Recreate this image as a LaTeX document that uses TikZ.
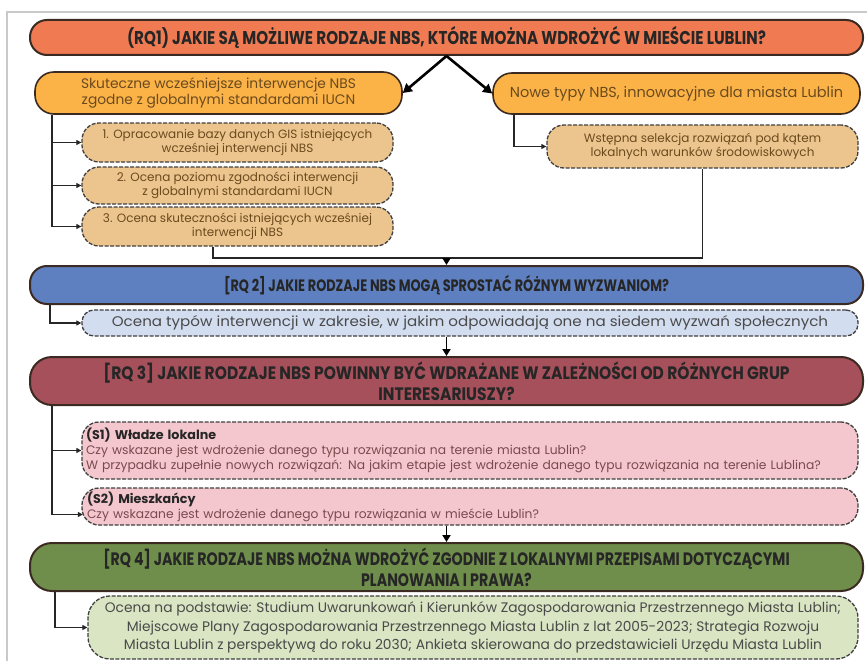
\documentclass[tikz,border=0pt]{standalone}
\usepackage{fontspec}
\setmainfont{Poppins}
\newfontfamily\hfont{Poppins}[FakeStretch=0.8]
\newfontfamily\honefont{Poppins}[FakeStretch=0.82]
\newfontfamily\htwofont{Poppins}[FakeStretch=0.78]
\newfontfamily\hthreefont{Poppins}[FakeStretch=0.86]
\newfontfamily\hfourfont{Poppins}[FakeStretch=0.79]
\newfontfamily\cfont{Poppins}[FakeStretch=1.08]
\usetikzlibrary{arrows.meta,calc}
\definecolor{cRQone}{HTML}{F07B52}
\definecolor{cOr}{HTML}{FBB347}
\definecolor{cTan}{HTML}{ECC58E}
\definecolor{cRQtwo}{HTML}{5E80C0}
\definecolor{cLB}{HTML}{D3DDF0}
\definecolor{cRQthree}{HTML}{A5505A}
\definecolor{cPink}{HTML}{F3C7CD}
\definecolor{cRQfour}{HTML}{6F8E4B}
\definecolor{cLG}{HTML}{D9E5C3}
\definecolor{cBord}{HTML}{3B2A22}
\definecolor{cFrame}{HTML}{C9C9C9}
\definecolor{cTxtBr}{HTML}{6B4A1E}
\definecolor{cTxtG}{HTML}{4A4A4A}
\definecolor{cTxtM}{HTML}{7A4A4E}
\tikzset{
  hdr/.style={draw=cBord, line width=2pt, rounded corners=17pt, align=center,
    font=\hfont\bfseries\fontsize{18}{21}\selectfont, text=black!85,
    minimum width=833pt, inner sep=0pt},
  obox/.style={draw=cBord, line width=1.6pt, fill=cOr, rounded corners=19pt, align=center,
    text=cTxtBr, minimum width=367pt, inner sep=0pt},
  sbox/.style={draw=black!75, line width=1.3pt, dash pattern=on 4pt off 1.5pt, rounded corners=17pt,
    align=center, inner sep=0pt},
  tanbox/.style={sbox, fill=cTan, minimum width=311pt, text=cTxtBr,
    font=\fontsize{12}{14}\selectfont},
  conn/.style={draw=black!85, line width=1.3pt, -{Triangle[width=5pt,length=5pt]}},
  line/.style={draw=black!85, line width=1.3pt},
  bigarr/.style={draw=black, line width=2.6pt, -{Triangle[width=10pt,length=9pt]}},
  varr/.style={draw=black, line width=1.8pt, -{Triangle[width=8pt,length=7pt]}},
}
\begin{document}
\begin{tikzpicture}[x=1pt,y=-1pt]
\useasboundingbox (0,0) rectangle (867,661);
\fill[white] (0,0) rectangle (867,661);
\draw[cFrame, line width=2pt] (867,12) -- (7,12) -- (7,661);

% coordinates for vertical trunks
\coordinate (x50) at (50,0);
\coordinate (x52) at (52,0);
\coordinate (x55) at (55,0);
\coordinate (x514) at (514,0);
\coordinate (j1) at (213,258);

% RQ1
\node[hdr, fill=cRQone, minimum height=35pt, font=\honefont\bfseries\fontsize{18.5}{21}\selectfont] (RQ1) at (446.5,37.5)
  {(RQ1) JAKIE SĄ MOŻLIWE RODZAJE NBS, KTÓRE MOŻNA WDROŻYĆ W MIEŚCIE LUBLIN?};

\node[obox, minimum height=42pt, font=\fontsize{13.8}{16}\selectfont] (Skut) at (218.5,93)
  {Skuteczne wcześniejsze interwencje NBS\\zgodne z globalnymi standardami IUCN};
\node[obox, minimum height=41pt, font=\fontsize{14.5}{16}\selectfont] (Nowe) at (676.5,93.5)
  {Nowe typy NBS, innowacyjne dla miasta Lublin};

\node[tanbox, minimum height=39pt] (B1) at (237.5,142.5)
  {1. Opracowanie bazy danych GIS istniejących\\wcześniej interwencji NBS};
\node[tanbox, minimum height=37pt] (B2) at (237.5,185.5)
  {2. Ocena poziomu zgodności interwencji\\z globalnymi standardami IUCN};
\node[tanbox, minimum height=39pt] (B3) at (237.5,226.5)
  {3. Ocena skuteczności istniejących wcześniej\\interwencji NBS};
\node[tanbox, minimum height=43pt] (Wst) at (702.5,146.5)
  {Wstępna selekcja rozwiązań pod kątem\\lokalnych warunków środowiskowych};

% RQ2
\node[hdr, fill=cRQtwo, minimum height=38pt, font=\htwofont\bfseries\fontsize{16.5}{20}\selectfont] (RQ2) at (446.5,285)
  {[RQ 2] JAKIE RODZAJE NBS MOGĄ SPROSTAĆ RÓŻNYM WYZWANIOM?};
\node[sbox, fill=cLB, minimum width=776pt, minimum height=26pt, rounded corners=12pt, text=cTxtG,
  font=\cfont\fontsize{14}{15}\selectfont] (Oc2) at (470,323)
  {Ocena typów interwencji w zakresie, w jakim odpowiadają one na siedem wyzwań społecznych};

% RQ3
\node[hdr, fill=cRQthree, minimum height=48pt, rounded corners=22pt,
  font=\hthreefont\bfseries\fontsize{18}{21}\selectfont] (RQ3) at (446.5,381)
  {[RQ 3] JAKIE RODZAJE NBS POWINNY BYĆ WDRAŻANE W ZALEŻNOŚCI OD RÓŻNYCH GRUP\\INTERESARIUSZY?};
\node[sbox, fill=cPink, minimum width=776pt, minimum height=57pt, text=cTxtM, align=left,
  text width=768pt, font=\fontsize{12.3}{15}\selectfont] (S1) at (470,450.5)
  {{\color{black!85}\fontsize{12.7}{15}\selectfont\bfseries (S1) Władze lokalne}\\
   Czy wskazane jest wdrożenie danego typu rozwiązania na terenie miasta Lublin?\\
   W przypadku zupełnie nowych rozwiązań: Na jakim etapie jest wdrożenie danego typu rozwiązania na terenie Lublina?};
\node[sbox, fill=cPink, minimum width=776pt, minimum height=37pt, text=cTxtM, align=left,
  text width=766pt, font=\fontsize{12.3}{15}\selectfont] (S2) at (470,506.5)
  {{\color{black!85}\fontsize{12.7}{15}\selectfont\bfseries (S2) Mieszkańcy}\\
   Czy wskazane jest wdrożenie danego typu rozwiązania w mieście Lublin?};

% RQ4
\node[hdr, fill=cRQfour, minimum height=48pt, rounded corners=22pt,
  font=\hfourfont\bfseries\fontsize{18}{21}\selectfont] (RQ4) at (446.5,567)
  {[RQ 4] JAKIE RODZAJE NBS MOŻNA WDROŻYĆ ZGODNIE Z LOKALNYMI PRZEPISAMI DOTYCZĄCYMI\\PLANOWANIA I PRAWA?};
\node[sbox, fill=cLG, minimum width=770pt, minimum height=63pt, rounded corners=22pt, text=cTxtG,
  font=\fontsize{13.8}{18.5}\selectfont] (Oc4) at (473,627.5)
  {Ocena na podstawie: Studium Uwarunkowań i Kierunków Zagospodarowania Przestrzennego Miasta Lublin;\\
   Miejscowe Plany Zagospodarowania Przestrzennego Miasta Lublin z lat 2005-2023; Strategia Rozwoju\\
   Miasta Lublin z perspektywą do roku 2030; Ankieta skierowana do przedstawicieli Urzędu Miasta Lublin};

% connectors
\draw[bigarr] (RQ1.south) -- (Skut.east);
\draw[bigarr] (RQ1.south) -- (Nowe.west);

\draw[line] (Skut.south -| x52) -- (x52 |- B3.west);
\draw[conn] (x52 |- B1.west) -- (B1.west);
\draw[conn] (x52 |- B2.west) -- (B2.west);
\draw[conn] (x52 |- B3.west) -- (B3.west);

\draw[conn] (Nowe.south -| x514) |- (Wst.west);

\draw[line] (B3.south -| j1) -- (j1) -| (Wst.south);
\draw[varr] (j1 -| RQ2.north) -- (RQ2.north);

\draw[conn] (RQ2.south -| x50) |- (Oc2.west);
\draw[varr] (Oc2.south -| RQ3.north) -- (RQ3.north);

\draw[line] (RQ3.south -| x52) -- ($(x52 |- S2.west)+(0,8)$);
\draw[conn] (x52 |- S1.west) -- (S1.west);
\draw[conn] ($(x52 |- S2.west)+(0,8)$) -- ($(S2.west)+(1.5,8)$);
\draw[varr] (S2.south -| RQ4.north) -- (RQ4.north);

\draw[conn] (RQ4.south -| x55) |- (Oc4.west);
\end{tikzpicture}
\end{document}
